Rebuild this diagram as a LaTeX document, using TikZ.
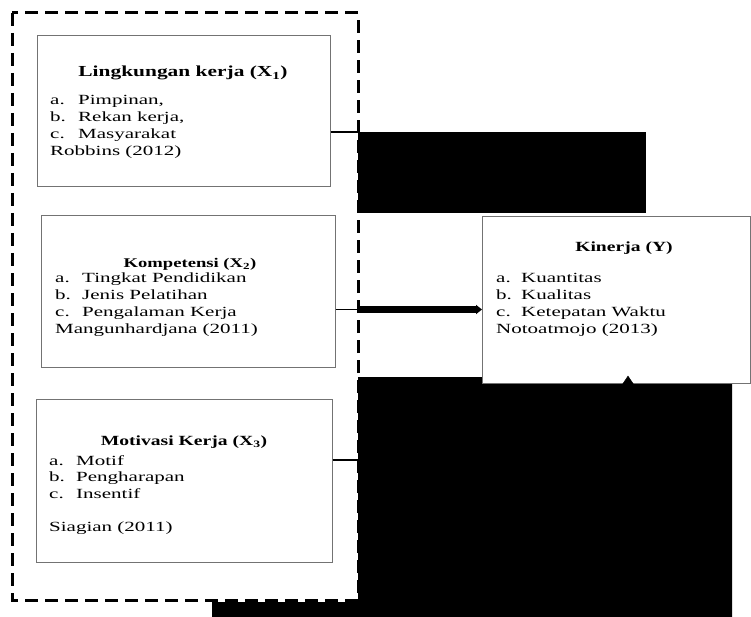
\documentclass[tikz,border=0pt]{standalone}
\usepackage{fontspec}
\setmainfont[FakeStretch=1.4]{Liberation Serif}
\newfontfamily\lstfont[FakeStretch=1.5]{Liberation Serif}
\usetikzlibrary{arrows.meta}
\begin{document}
\begin{tikzpicture}[x=1pt,y=-1pt,
  box/.style={draw=black!55, line width=0.7pt, fill=white},
  ttl/.style={anchor=base, inner sep=0pt, font=\fontsize{14}{16.5}\selectfont\bfseries},
  lst/.style={anchor=base west, inner sep=0pt, font=\lstfont\fontsize{14}{16.7}\selectfont},
  blk/.style={fill=black, draw=none},
  link/.style={draw=black, line width=1.6pt}]
\useasboundingbox (0,0) rectangle (751,617);
% dark filled areas
\fill[blk] (358,132) rectangle (646,213);
\fill[blk] (358,377) -- (482,377) -- (482,384) -- (732,384) -- (732,617) -- (212,617) -- (212,602) -- (358,602) -- cycle;
% boxes
\node[box, minimum width=293pt, minimum height=151pt, anchor=north west, inner sep=0pt] (x1) at (37,35) {};
\node[box, minimum width=294pt, minimum height=152pt, anchor=north west, inner sep=0pt] (x2) at (41,215) {};
\node[box, minimum width=296pt, minimum height=163pt, anchor=north west, inner sep=0pt] (x3) at (36,399) {};
\node[box, minimum width=268pt, minimum height=167pt, anchor=north west, inner sep=0pt] (y) at (482,216) {};
% texts
\node[ttl, font=\fontsize{15.3}{17}\selectfont\bfseries] (t1) at (183,77) {Lingkungan kerja (X\textsubscript{1})};
\node[lst] (l1) at (50,105) {\begin{tabular}[t]{@{}p{28pt}@{}l@{}}a.&Pimpinan,\\ b.&Rekan kerja,\\ c.&Masyarakat\\ \multicolumn{2}{@{}l@{}}{Robbins (2012)}\end{tabular}};
\node[ttl, font=\fontsize{13.3}{15}\selectfont\bfseries] (t2) at (190,267) {Kompetensi (X\textsubscript{2})};
\node[lst] (l2) at (55,283) {\begin{tabular}[t]{@{}p{27pt}@{}l@{}}a.&Tingkat Pendidikan\\ b.&Jenis Pelatihan\\ c.&Pengalaman Kerja\\ \multicolumn{2}{@{}l@{}}{Mangunhardjana (2011)}\end{tabular}};
\node[ttl] (t3) at (184,445) {Motivasi Kerja (X\textsubscript{3})};
\node[lst] (l3) at (49,465) {\begin{tabular}[t]{@{}p{27pt}@{}l@{}}a.&Motif\\ b.&Pengharapan\\ c.&Insentif\\[16.7pt] \multicolumn{2}{@{}l@{}}{Siagian (2011)}\end{tabular}};
\node[ttl] (ty) at (624,252) {Kinerja (Y)};
\node[lst] (ly) at (496,283) {\begin{tabular}[t]{@{}p{25pt}@{}l@{}}a.&Kuantitas\\ b.&Kualitas\\ c.&Ketepatan Waktu\\ \multicolumn{2}{@{}l@{}}{Notoatmojo (2013)}\end{tabular}};
% dashed frame
\draw[line width=3pt, dash pattern=on 13pt off 7pt] (12,13) rectangle (358,600);
% connectors
\coordinate (c1) at (358,132);
\coordinate (c2) at (358,309.5);
\coordinate (c3) at (358,460);
\coordinate (tipbase) at (628,392);
\draw[link] (x1.east |- c1) -- (c1);
\draw[link] (x2.east |- c2) -- (c2);
\draw[line width=6.5pt, -{Triangle[length=6pt,width=9pt]}] (c2) -- (y.west |- c2);
\draw[link] (x3.east |- c3) -- (c3);
\draw[line width=0.5pt, -{Triangle[length=9pt,width=12pt]}] (tipbase) -- ([yshift=8pt]y.south -| tipbase);
\end{tikzpicture}
\end{document}
